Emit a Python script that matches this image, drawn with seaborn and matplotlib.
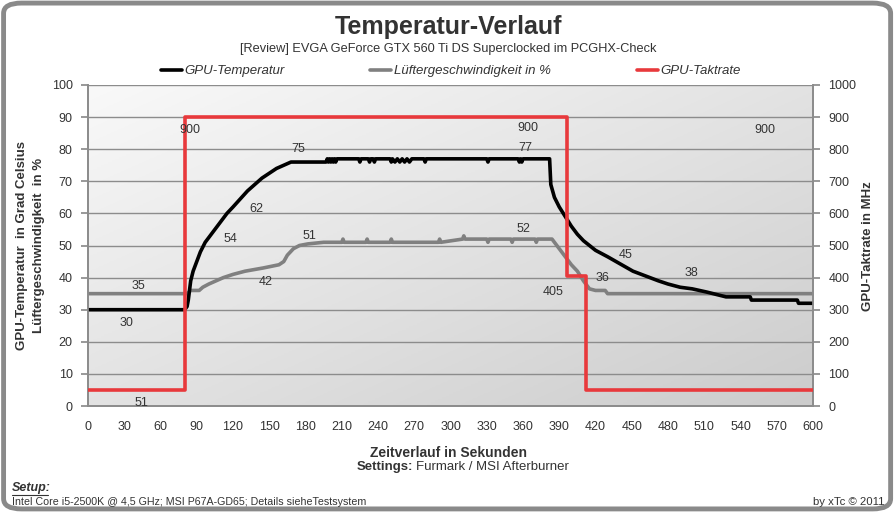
import numpy as np
import pandas as pd
import seaborn as sns
import matplotlib.pyplot as plt
from matplotlib.patches import FancyBboxPatch
from matplotlib.lines import Line2D
from matplotlib.colors import LinearSegmentedColormap

# GPU temperature (deg C) over time (s)
temp_time = [0, 80, 82, 83, 85, 87, 90, 93, 97, 101, 105, 110, 115, 120, 126, 132, 138,
             144, 150, 156, 162, 168, 197, 198, 199, 200, 201, 202, 203, 204, 205, 206,
             224, 225, 226, 232, 233, 234, 236, 237, 238, 240, 250, 251, 252, 254, 256,
             258, 260, 262, 264, 266, 268, 270, 278, 279, 280, 330, 331, 332, 356, 357,
             358, 359, 360, 382, 383, 386, 390, 395, 400, 405, 410, 415, 420, 425, 430,
             437, 444, 451, 458, 465, 472, 480, 490, 500, 512, 528, 548, 549, 587, 588, 600]
temp_vals = [30, 30, 31, 33, 39, 42, 45, 48, 51, 53, 55, 57.5, 60, 62, 64.5, 67, 69,
             71, 72.5, 74, 75, 76, 76, 77, 76, 77, 76, 77, 76, 77, 76, 77,
             77, 76, 77, 77, 76, 77, 77, 76, 77, 77, 77, 76, 77, 76, 77,
             76, 77, 76, 77, 76, 77, 77, 77, 76, 77, 77, 76, 77, 77, 76,
             77, 76, 77, 77, 69, 65, 62, 59, 56, 53.5, 51.5, 50, 48.5, 47.5, 46.5,
             45, 43.5, 42, 41, 40, 39, 38, 37, 36.5, 35.5, 34, 34, 33, 33, 32, 32]

# fan speed (%) over time (s)
fan_time = [0, 80, 82, 85, 92, 95, 100, 106, 112, 120, 130, 145, 158, 162, 165, 170, 175,
            182, 195, 210, 211, 212, 230, 231, 232, 250, 251, 252, 270, 290, 291, 292,
            310, 311, 312, 330, 331, 332, 350, 351, 352, 370, 371, 372, 382, 384, 390,
            395, 400, 405, 410, 415, 420, 428, 430, 600]
fan_vals = [35, 35, 35, 36, 36, 37, 38, 39, 40, 41, 42, 43, 44, 45, 47, 49, 50,
            50.5, 51, 51, 52, 51, 51, 52, 51, 51, 52, 51, 51, 51, 52, 51,
            52, 53, 52, 52, 51, 52, 52, 51, 52, 52, 51, 52, 52, 52, 49,
            46.5, 44, 42, 39, 36.5, 36, 36, 35, 35]

# GPU clock (MHz) over time (s)
clock_time = [0, 80, 80, 396, 396, 412, 412, 600]
clock_vals = [51, 51, 900, 900, 405, 405, 51, 51]

# data labels (time, value, text) on left / right axis
left_labels = [(32, 26, '30'), (42, 37.5, '35'), (118, 52, '54'), (147, 38.5, '42'),
               (139, 61.5, '62'), (174, 80, '75'), (183, 53, '51'), (362, 80.5, '77'),
               (360, 55, '52'), (426, 40, '36'), (445, 47, '45'), (499, 41.5, '38')]
right_labels = [(44, 10, '51'), (84, 860, '900'), (364, 865, '900'), (385, 355, '405'),
                (560, 860, '900')]

sns.set_theme(style="white")
plt.rcParams['font.family'] = ['Liberation Sans', 'DejaVu Sans']
TXT = '#333333'

fig = plt.figure(figsize=(8.96, 5.12), dpi=100)
fig.patch.set_facecolor('white')
fig.patches.append(FancyBboxPatch((0.004, 0.006), 0.99, 0.988,
                                  boxstyle="round,pad=0,rounding_size=0.02",
                                  transform=fig.transFigure, fill=False,
                                  edgecolor='#8a8a8a', linewidth=3.5))

ax = fig.add_axes([0.0982, 0.207, 0.8092, 0.627])
ax2 = ax.twinx()

# gradient background, light top-left to grey bottom-right
g = np.linspace(0, 1, 200)
X, Y = np.meshgrid(g, g)
grad = (X + Y) / 2
cmap = LinearSegmentedColormap.from_list('bg', ['#f9f9f9', '#cccccc'])
ax.imshow(grad, extent=[0, 1, 0, 1], transform=ax.transAxes, cmap=cmap,
          vmin=0, vmax=1, aspect='auto', zorder=0, origin='upper')

temp_df = pd.DataFrame({'t': temp_time, 'v': temp_vals})
fan_df = pd.DataFrame({'t': fan_time, 'v': fan_vals})
clock_df = pd.DataFrame({'t': clock_time, 'v': clock_vals})

sns.lineplot(data=fan_df, x='t', y='v', ax=ax, color='#808080', lw=2.6, sort=False,
             estimator=None, zorder=3)
sns.lineplot(data=temp_df, x='t', y='v', ax=ax, color='black', lw=2.6, sort=False,
             estimator=None, zorder=4)
sns.lineplot(data=clock_df, x='t', y='v', ax=ax2, color='#e8393c', lw=2.6, sort=False,
             estimator=None, zorder=5)

ax.set_xlim(0, 600)
ax.set_ylim(0, 100)
ax2.set_ylim(0, 1000)
ax.set_xticks(range(0, 601, 30))
ax.set_yticks(range(0, 101, 10))
ax2.set_yticks(range(0, 1001, 100))
ax.yaxis.grid(True, color='#8c8c8c', lw=1)
ax.set_axisbelow(False)
for a in (ax, ax2):
    for s in a.spines.values():
        s.set_color('#8c8c8c')
    a.spines['top'].set_visible(False)
ax.tick_params(axis='y', length=5, color='#8c8c8c', labelsize=9, labelcolor=TXT,
               pad=6, left=True)
ax2.tick_params(axis='y', length=5, color='#8c8c8c', labelsize=9, labelcolor=TXT,
                pad=6, right=True)
ax.tick_params(axis='x', length=0, labelsize=9, labelcolor=TXT, pad=11)
ax.set_xlabel('')
ax.set_ylabel('')
ax2.set_ylabel('')
ax2.set_zorder(ax.get_zorder() + 1)
ax2.patch.set_visible(False)

for t, v, s in left_labels:
    ax.text(t, v, s, ha='center', va='center', fontsize=9, color=TXT, zorder=6)
for t, v, s in right_labels:
    ax2.text(t, v, s, ha='center', va='center', fontsize=9, color=TXT, zorder=6,
             clip_on=False)

# titles
fig.text(0.5, 0.947, 'Temperatur-Verlauf', ha='center', va='center', fontsize=18,
         fontweight='bold', color=TXT)
fig.text(0.5, 0.905, '[Review] EVGA GeForce GTX 560 Ti DS Superclocked im PCGHX-Check',
         ha='center', va='center', fontsize=9.2, color=TXT)

# legend
handles = [Line2D([], [], color='black', lw=2.6), Line2D([], [], color='#808080', lw=2.6),
           Line2D([], [], color='#e8393c', lw=2.6)]
leg = fig.legend(handles, ['GPU-Temperatur', 'Lüftergeschwindigkeit in %', 'GPU-Taktrate'],
                 loc='center', bbox_to_anchor=(0.503, 0.861), ncol=3, frameon=False,
                 handlelength=1.6, handletextpad=0.2, columnspacing=6.5,
                 prop={'size': 9.5, 'style': 'italic'})
for txt in leg.get_texts():
    txt.set_color(TXT)

# axis titles
fig.text(0.024, 0.52, 'GPU-Temperatur  in Grad Celsius', rotation=90, ha='center',
         va='center', fontsize=9.5, fontweight='bold', color=TXT)
fig.text(0.044, 0.52, 'Lüftergeschwindigkeit  in %', rotation=90, ha='center',
         va='center', fontsize=9.5, fontweight='bold', color=TXT)
fig.text(0.969, 0.52, 'GPU-Taktrate in MHz', rotation=90, ha='center', va='center',
         fontsize=9.5, fontweight='bold', color=TXT)
fig.text(0.5, 0.115, 'Zeitverlauf in Sekunden', ha='center', va='center', fontsize=10,
         fontweight='bold', color=TXT)
fig.text(0.461, 0.088, 'Settings:', ha='right', va='center', fontsize=9.5,
         fontweight='bold', color=TXT)
fig.text(0.464, 0.088, 'Furmark / MSI Afterburner', ha='left', va='center',
         fontsize=9.5, color=TXT)

# footer
fig.text(0.013, 0.047, 'Setup:', ha='left', va='center', fontsize=9, fontweight='bold',
         style='italic', color=TXT)
fig.add_artist(Line2D([0.013, 0.054], [0.034, 0.034], color=TXT, lw=0.8,
                      transform=fig.transFigure))
fig.text(0.013, 0.019, 'Intel Core i5-2500K @ 4,5 GHz; MSI P67A-GD65; Details sieheTestsystem',
         ha='left', va='center', fontsize=7.7, color=TXT)
fig.text(0.987, 0.019, 'by xTc © 2011', ha='right', va='center', fontsize=8.2,
         color=TXT)

fig.savefig('out.png', dpi=100, facecolor='white')
